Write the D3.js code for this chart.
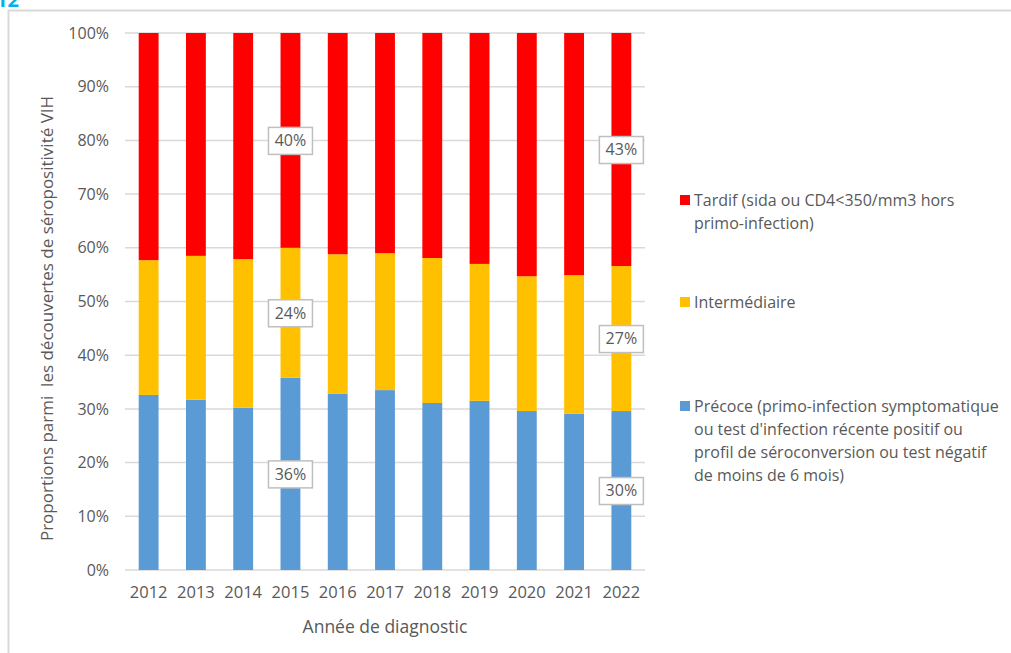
<!doctype html>
<html lang="fr">
<head>
<meta charset="utf-8" />
<title>Découvertes de séropositivité VIH</title>
<script src="https://d3js.org/d3.v7.min.js"></script>
<style>
  body { margin: 0; background: #fff; }
  text { font-family: "Open Sans", "Liberation Sans", Arial, sans-serif; fill: #595959; }
</style>
</head>
<body>
<div id="chart"></div>
<script>
// data (percent)
const years = ["2012", "2013", "2014", "2015", "2016", "2017", "2018", "2019", "2020", "2021", "2022"];
const precoce = [32.6, 31.7, 30.2, 35.8, 32.8, 33.5, 31.1, 31.5, 29.6, 29.1, 29.6];
const intermediaire = [25.1, 26.8, 27.7, 24.2, 26.0, 25.5, 27.0, 25.5, 25.1, 25.8, 27.0];
const tardif = [42.3, 41.5, 42.1, 40.0, 41.2, 41.0, 41.9, 43.0, 45.3, 45.1, 43.4];
const yTicks = [0, 10, 20, 30, 40, 50, 60, 70, 80, 90, 100];
const labelledYears = ["2015", "2022"];
const seriesNames = ["Précoce", "Intermédiaire", "Tardif"];
const colors = ["#5b9bd5", "#ffc000", "#ff0000"];
const legendLines = [
  ["Tardif (sida ou CD4<350/mm3 hors", "primo-infection)"],
  ["Intermédiaire"],
  ["Précoce (primo-infection symptomatique", "ou test d'infection récente positif ou",
   "profil de séroconversion ou test négatif", "de moins de 6 mois)"]
];

const W = 1011, H = 653;
const margin = { top: 33, left: 125, right: 366, bottom: 83 };
const innerW = W - margin.left - margin.right,
      innerH = H - margin.top - margin.bottom;

const svg = d3.select("#chart").append("svg")
  .attr("width", W).attr("height", H);

// cut off heading fragment at top-left
svg.append("text").attr("x", -4).attr("y", 7)
  .style("fill", "#00b0f0").style("font-size", "20px").style("font-weight", "bold")
  .text("12");

// chart area frame
svg.append("rect")
  .attr("x", 8.5).attr("y", 10.5).attr("width", W + 20).attr("height", H + 20)
  .attr("fill", "none").attr("stroke", "#d9d9d9").attr("stroke-width", 2);

const g = svg.append("g").attr("transform", `translate(${margin.left},${margin.top})`);

const x = d3.scaleBand().domain(years).range([0, innerW]).paddingInner(0.58).paddingOuter(0.29);
const y = d3.scaleLinear().domain([0, 100]).range([innerH, 0]);

// gridlines
g.selectAll(".grid").data(yTicks).enter().append("line")
  .attr("x1", 0).attr("x2", innerW)
  .attr("y1", d => y(d)).attr("y2", d => y(d))
  .attr("stroke", "#d9d9d9").attr("stroke-width", 1.5);

// y axis labels
const yAxis = g.append("g").call(d3.axisLeft(y).tickValues(yTicks).tickSize(0).tickPadding(16)
  .tickFormat(d => d + "%"));
yAxis.select(".domain").remove();
yAxis.selectAll("text").style("font-size", "16px").attr("fill", null);

// x axis labels
const xAxis = g.append("g").attr("transform", `translate(0,${innerH})`)
  .call(d3.axisBottom(x).tickSize(0).tickPadding(16));
xAxis.select(".domain").remove();
xAxis.selectAll("text").style("font-size", "16.5px").attr("fill", null);

// stacked bars
const rows = years.map((yr, i) => ({ year: yr, "Précoce": precoce[i], "Intermédiaire": intermediaire[i], "Tardif": tardif[i] }));
const stacked = d3.stack().keys(seriesNames)(rows);

g.selectAll(".layer").data(stacked).enter().append("g")
  .attr("fill", (d, i) => colors[i])
  .selectAll("rect").data(d => d).enter().append("rect")
  .attr("x", d => x(d.data.year))
  .attr("width", x.bandwidth())
  .attr("y", d => y(d[1]))
  .attr("height", d => y(d[0]) - y(d[1]));

// data labels for 2015 and 2022
stacked.forEach(layer => {
  layer.filter(d => labelledYears.includes(d.data.year)).forEach(d => {
    const cx = x(d.data.year) + x.bandwidth() / 2,
          cy = y((d[0] + d[1]) / 2);
    const lg = g.append("g").attr("transform", `translate(${cx},${cy})`);
    lg.append("rect").attr("x", -22).attr("y", -13).attr("width", 44).attr("height", 27)
      .attr("fill", "#fff").attr("stroke", "#bfbfbf").attr("stroke-width", 1.5);
    lg.append("text").attr("text-anchor", "middle").attr("dy", "0.36em")
      .style("font-size", "16px")
      .text(Math.round(d[1] - d[0]) + "%");
  });
});

// axis titles
svg.append("text")
  .attr("transform", `translate(53,${margin.top + innerH / 2 + 17}) rotate(-90)`)
  .attr("text-anchor", "middle").style("font-size", "17px").style("white-space", "pre")
  .text("Proportions parmi  les découvertes de séropositivité VIH");

svg.append("text")
  .attr("x", margin.left + innerW / 2).attr("y", 633)
  .attr("text-anchor", "middle").style("font-size", "17.5px")
  .text("Année de diagnostic");

// legend
const legendY = [200, 302, 406];
const legend = svg.append("g").attr("transform", "translate(680,0)");
legendLines.forEach((lines, i) => {
  const gy = legendY[i];
  legend.append("rect").attr("x", 0).attr("y", gy - 5).attr("width", 10).attr("height", 10)
    .attr("fill", colors[2 - i]);
  const t = legend.append("text").attr("x", 14).attr("y", gy)
    .style("font-size", "16px");
  lines.forEach((ln, j) => {
    t.append("tspan").attr("x", 14).attr("dy", j === 0 ? "0.35em" : "1.45em").text(ln);
  });
});
</script>
</body>
</html>
